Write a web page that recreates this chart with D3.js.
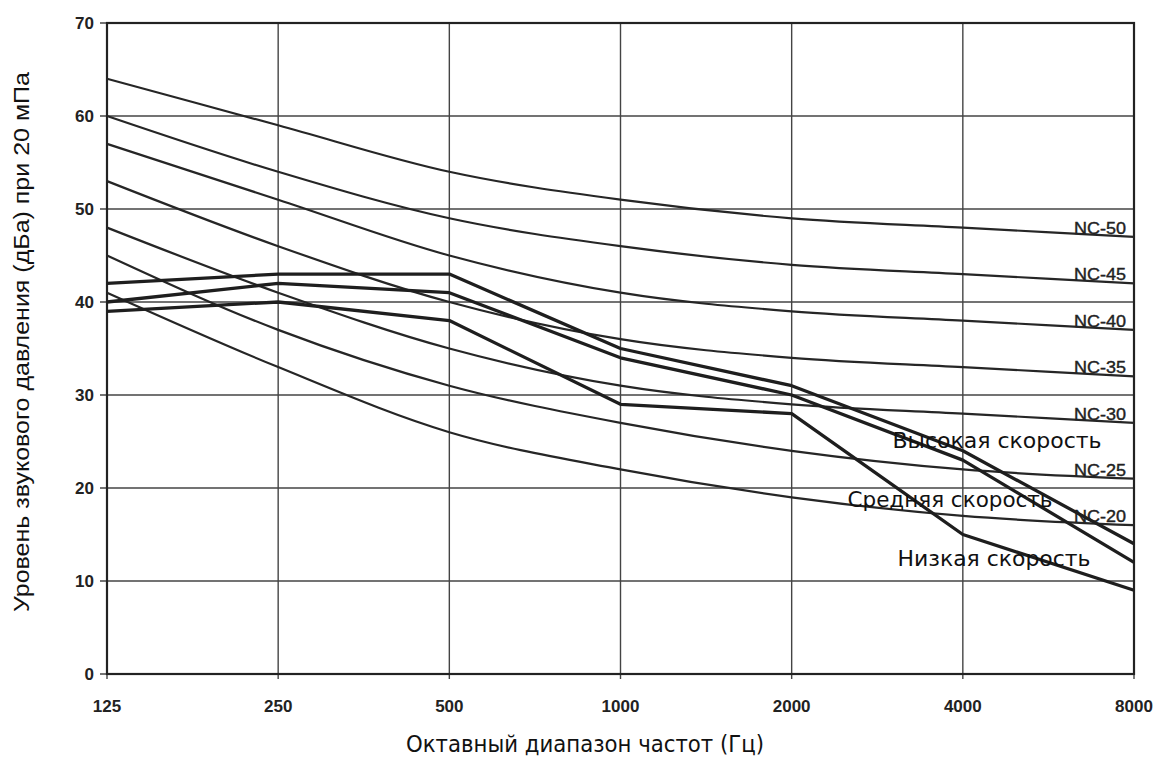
<!DOCTYPE html>
<html lang="ru">
<head>
  <meta charset="UTF-8">
  <title>NC curves</title>
  <script src="https://d3js.org/d3.v7.min.js"></script>
  <style>
    body { margin: 0; background: #fff; }
    .grid line { stroke: #444; stroke-width: 1.4px; }
    .nc { fill: none; stroke: #262626; stroke-width: 2.2px; }
    .speed { fill: none; stroke: #1e1e1e; stroke-width: 3.3px; stroke-linejoin: round; }
    .tick-label { font-family: "Liberation Sans", Arial, sans-serif; font-size: 17px; font-weight: bold; fill: #222; }
    .nc-label { font-family: "Liberation Sans", Arial, sans-serif; font-size: 17px; fill: #222; stroke: #222; stroke-width: 0.4px; }
    .speed-label { font-family: "DejaVu Sans Condensed", "DejaVu Sans", sans-serif; font-size: 21px; fill: #111; }
  </style>
</head>
<body>
  <svg width="1162" height="762"></svg>
  <script>
    // octave bands, Hz
    const freqs = [125, 250, 500, 1000, 2000, 4000, 8000];
    const yTicks = [0, 10, 20, 30, 40, 50, 60, 70];

    // NC curves (dB)
    const nc50 = [64, 59, 54, 51, 49, 48, 47];
    const nc45 = [60, 54, 49, 46, 44, 43, 42];
    const nc40 = [57, 51, 45, 41, 39, 38, 37];
    const nc35 = [53, 46, 40, 36, 34, 33, 32];
    const nc30 = [48, 41, 35, 31, 29, 28, 27];
    const nc25 = [45, 37, 31, 27, 24, 22, 21];
    const nc20 = [41, 33, 26, 22, 19, 17, 16];
    const ncNames = ["NC-50", "NC-45", "NC-40", "NC-35", "NC-30", "NC-25", "NC-20"];

    // fan speeds
    const highSpeed = [42, 43, 43, 35, 31, 24, 14];
    const midSpeed = [40, 42, 41, 34, 30, 23, 12];
    const lowSpeed = [39, 40, 38, 29, 28, 15, 9];
    const speedNames = ["Высокая скорость", "Средняя скорость", "Низкая скорость"];

    const svg = d3.select("svg");
    const x = d3.scaleLog().base(2).domain([125, 8000]).range([107, 1134]);
    const y = d3.scaleLinear().domain([0, 70]).range([674, 23]);

    // grid
    const grid = svg.append("g").attr("class", "grid");
    grid.selectAll(".h").data(yTicks).enter().append("line")
      .attr("x1", x(125) - 7).attr("x2", x(8000))
      .attr("y1", d => y(d)).attr("y2", d => y(d));
    grid.selectAll(".v").data(freqs).enter().append("line")
      .attr("x1", d => x(d)).attr("x2", d => x(d))
      .attr("y1", y(70)).attr("y2", y(0) + 5);

    // frame
    svg.append("rect")
      .attr("x", x(125)).attr("y", y(70))
      .attr("width", x(8000) - x(125)).attr("height", y(0) - y(70))
      .attr("fill", "none").attr("stroke", "#222").attr("stroke-width", 2.2);

    // tick labels
    svg.selectAll(".ylab").data(yTicks).enter().append("text")
      .attr("class", "tick-label")
      .attr("x", 94).attr("y", d => y(d) + 6)
      .attr("text-anchor", "end")
      .text(d => d);
    svg.selectAll(".xlab").data(freqs).enter().append("text")
      .attr("class", "tick-label")
      .attr("x", d => x(d)).attr("y", 712)
      .attr("text-anchor", "middle")
      .text(d => d);

    const line = d3.line().x((d, i) => x(freqs[i])).y(d => y(d));
    const curve = d3.line().x((d, i) => x(freqs[i])).y(d => y(d)).curve(d3.curveMonotoneX);

    const ncData = [nc50, nc45, nc40, nc35, nc30, nc25, nc20];
    svg.selectAll(".nc").data(ncData).enter().append("path")
      .attr("class", "nc")
      .attr("d", curve);

    svg.selectAll(".nc-label").data(ncData).enter().append("text")
      .attr("class", "nc-label")
      .attr("x", 1126)
      .attr("y", d => y(d[d.length - 1]) - 3)
      .attr("text-anchor", "end")
      .attr("textLength", 52)
      .attr("lengthAdjust", "spacingAndGlyphs")
      .text((d, i) => ncNames[i]);

    const speedData = [highSpeed, midSpeed, lowSpeed];
    svg.selectAll(".speed").data(speedData).enter().append("path")
      .attr("class", "speed")
      .attr("d", line);

    // labels for fan speeds
    const speedPos = [[997, 448, 209], [950, 507, 205], [994, 566, 193]];
    svg.selectAll(".speed-label").data(speedNames).enter().append("text")
      .attr("class", "speed-label")
      .attr("x", (d, i) => speedPos[i][0])
      .attr("y", (d, i) => speedPos[i][1])
      .attr("text-anchor", "middle")
      .attr("textLength", (d, i) => speedPos[i][2])
      .attr("lengthAdjust", "spacingAndGlyphs")
      .text(d => d);

    // axis titles
    svg.append("text")
      .attr("x", 585).attr("y", 752)
      .attr("text-anchor", "middle")
      .attr("font-family", "DejaVu Sans Condensed, DejaVu Sans, sans-serif")
      .attr("font-size", 23)
      .attr("textLength", 358)
      .attr("lengthAdjust", "spacingAndGlyphs")
      .attr("fill", "#111")
      .text("Октавный диапазон частот (Гц)");

    svg.append("text")
      .attr("transform", "translate(29,342) rotate(-90)")
      .attr("text-anchor", "middle")
      .attr("font-family", "Liberation Sans, Arial, sans-serif")
      .attr("font-size", 22)
      .attr("textLength", 540)
      .attr("lengthAdjust", "spacingAndGlyphs")
      .attr("fill", "#111")
      .text("Уровень звукового давления (дБа) при 20 мПа");
  </script>
</body>
</html>
